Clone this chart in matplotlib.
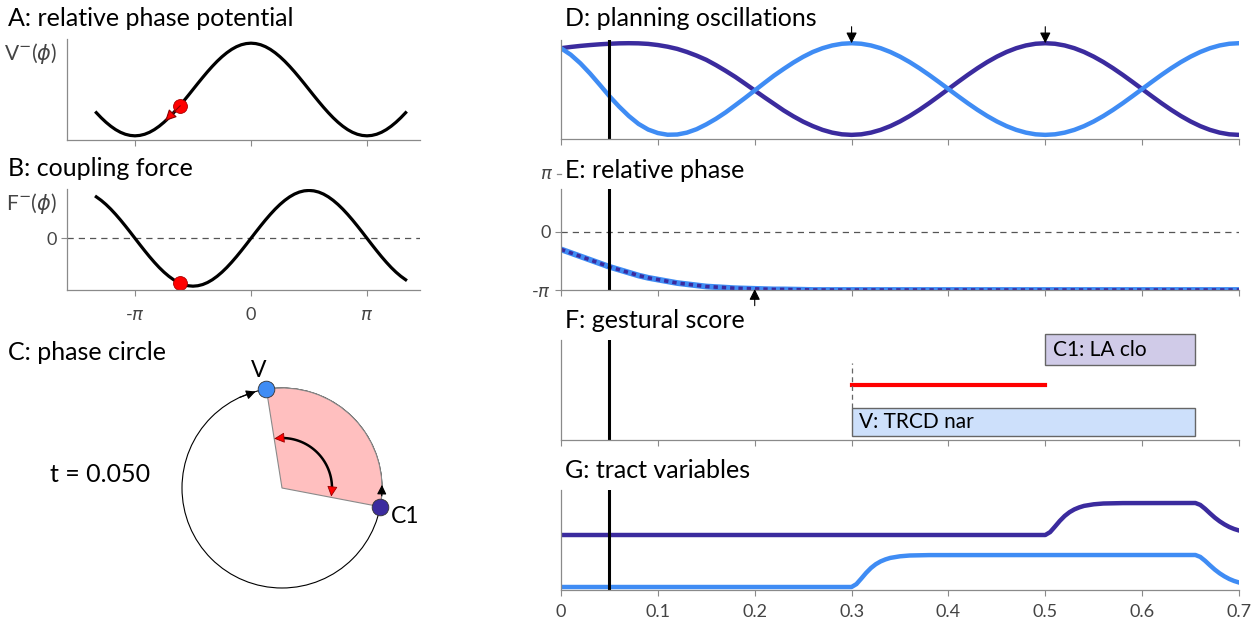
import numpy as np
import matplotlib.pyplot as plt
from matplotlib.patches import Wedge, Circle, Rectangle
import matplotlib.transforms as mtrans

plt.rcParams['font.family'] = ['Lato', 'DejaVu Sans']

# ---- data ----
# A/B: potential and coupling force vs relative phase, phase in steps of pi/24 (-4pi/3 .. 4pi/3)
phi_grid = np.arange(-32, 33) * np.pi / 24
pot_left = [-0.5, -0.609, -0.707, -0.793, -0.866, -0.924, -0.966, -0.991, -1.0,
            -0.991, -0.966, -0.924, -0.866, -0.793, -0.707, -0.609, -0.5, -0.383, -0.259, -0.131, 0.0,
            0.131, 0.259, 0.383, 0.5, 0.609, 0.707, 0.793, 0.866, 0.924, 0.966, 0.991, 1.0]
potential = pot_left + pot_left[-2::-1]          # curve is symmetric about 0
force_left = [0.866, 0.793, 0.707, 0.609, 0.5, 0.383, 0.259, 0.131, 0.0,
              -0.131, -0.259, -0.383, -0.5, -0.609, -0.707, -0.793, -0.866, -0.924, -0.966, -0.991, -1.0,
              -0.991, -0.966, -0.924, -0.866, -0.793, -0.707, -0.609, -0.5, -0.383, -0.259, -0.131]
force = force_left + [0.0] + [-v for v in force_left[::-1]]   # odd about 0
phi_now = -0.61 * np.pi
v_now, f_now = -0.35, -0.94
tip_phi, tip_v = -0.74 * np.pi, -0.68

# C: current phases on the circle
t_now = 0.05
phase_V_now = 0.55 * np.pi
phase_C1_now = -0.06 * np.pi

# D/E: planning oscillators, sampled every 0.01 s
t_osc = np.linspace(0, 0.7, 71)
osc_V = [0.891, 0.750, 0.562, 0.339, 0.094, -0.156, -0.383, -0.588, -0.760, -0.884, -0.960, -0.997, -0.992,
         -0.951, -0.876, -0.771, -0.649, -0.509, -0.353, -0.195, -0.031, 0.133, 0.294, 0.440, 0.579, 0.703,
         0.809, 0.891, 0.951, 0.988, 1.0,
         0.988, 0.951, 0.891, 0.809, 0.707, 0.588, 0.454, 0.309, 0.156, 0.0,
         -0.156, -0.309, -0.454, -0.588, -0.707, -0.809, -0.891, -0.951, -0.988, -1.0,
         -0.988, -0.951, -0.891, -0.809, -0.707, -0.588, -0.454, -0.309, -0.156, 0.0,
         0.156, 0.309, 0.454, 0.588, 0.707, 0.809, 0.891, 0.951, 0.988, 1.0]
osc_C1 = [0.891, 0.918, 0.941, 0.960, 0.976, 0.988, 0.997, 1.0, 0.997, 0.985, 0.960, 0.924, 0.876,
          0.809, 0.729, 0.637, 0.522, 0.397, 0.264, 0.118, -0.031, -0.180, -0.324, -0.468, -0.596, -0.712,
          -0.809, -0.891, -0.951, -0.988, -1.0,
          -0.988, -0.951, -0.891, -0.809, -0.707, -0.588, -0.454, -0.309, -0.156, 0.0,
          0.156, 0.309, 0.454, 0.588, 0.707, 0.809, 0.891, 0.951, 0.988, 1.0,
          0.988, 0.951, 0.891, 0.809, 0.707, 0.588, 0.454, 0.309, 0.156, 0.0,
          -0.156, -0.309, -0.454, -0.588, -0.707, -0.809, -0.891, -0.951, -0.988, -1.0]
# relative phase in units of pi
rel_phase = [-0.30, -0.36, -0.42, -0.48, -0.54, -0.60, -0.65, -0.70, -0.75, -0.79, -0.82, -0.85, -0.88,
             -0.90, -0.92, -0.94, -0.95, -0.96, -0.97, -0.975, -0.98, -0.985, -0.99, -0.99, -0.993,
             -0.996] + [-1.0] * 45
peak_times = [0.3, 0.5]
converge_t = 0.2

# F: gestural score
gest_labels = ['V: TRCD nar', 'C1: LA clo']
gest_on = [0.3, 0.5]
gest_off = [0.655, 0.655]
plan_on, plan_off = 0.3, 0.5

# G: tract variables
tv_t_V = [0, 0.30, 0.305, 0.31, 0.315, 0.32, 0.325, 0.33, 0.335, 0.34, 0.35, 0.36, 0.38,
          0.655, 0.66, 0.665, 0.67, 0.675, 0.68, 0.685, 0.69, 0.695, 0.70]
tv_V = [0.03, 0.03, 0.059, 0.114, 0.171, 0.220, 0.258, 0.286, 0.306, 0.321, 0.337, 0.345, 0.349,
        0.35, 0.331, 0.292, 0.247, 0.204, 0.167, 0.136, 0.110, 0.090, 0.075]
tv_t_C1 = [0, 0.50, 0.505, 0.51, 0.515, 0.52, 0.525, 0.53, 0.535, 0.54, 0.55, 0.56, 0.58,
           0.655, 0.66, 0.665, 0.67, 0.675, 0.68, 0.685, 0.69, 0.695, 0.70]
tv_C1 = [0.55, 0.55, 0.579, 0.634, 0.691, 0.740, 0.778, 0.806, 0.826, 0.841, 0.857, 0.865, 0.869,
         0.87, 0.851, 0.812, 0.767, 0.724, 0.687, 0.656, 0.630, 0.610, 0.595]

c_V = '#3f8cf4'
c_C1 = '#3b2b9e'
spine_c = '#8a8a8a'
lab_c = '#444444'

W, H = 1257, 621
fig = plt.figure(figsize=(W / 100, H / 100), dpi=100)


def px_axes(l, t, w, h):
    return fig.add_axes([l / W, 1 - (t + h) / H, w / W, h / H])


def style(ax):
    for s in ['top', 'right']:
        ax.spines[s].set_visible(False)
    for s in ['left', 'bottom']:
        ax.spines[s].set_color(spine_c)
        ax.spines[s].set_linewidth(0.9)
    ax.tick_params(direction='out', length=4, color=spine_c, labelcolor=lab_c, labelsize=13)
    ax.set_yticks([])


def title(x, y, s):
    fig.text(x / W, 1 - y / H, s, fontsize=18, va='center', ha='left')


pi_ticks = [-np.pi, 0, np.pi]
pi_labels = [r'-$\pi$', '0', r'$\pi$']
head = dict(arrowstyle='-|>', color='black', lw=0.8, mutation_scale=16)

# A
axA = px_axes(67, 39, 353, 101)
style(axA)
axA.plot(phi_grid, potential, color='black', lw=2.3)
axA.plot(phi_now, v_now, 'o', ms=10, mfc='red', mec='#aa0000', mew=0.6, zorder=3)
axA.annotate('', xy=(tip_phi, tip_v), xytext=(phi_now, v_now), zorder=4,
             arrowprops=dict(arrowstyle='-|>', fc='red', ec='#880000', lw=0.8, mutation_scale=17,
                             shrinkA=0, shrinkB=0))
axA.set_xlim(-1.586 * np.pi, 1.457 * np.pi)
axA.set_ylim(-1.09, 1.09)
axA.set_xticks(pi_ticks)
axA.set_xticklabels([])
title(8, 18, 'A: relative phase potential')
fig.text(57 / W, 1 - 53 / H, r'V$^{-}$($\phi$)', fontsize=15, ha='right', va='center', color=lab_c)

# B
axB = px_axes(67, 189, 353, 101)
style(axB)
axB.axhline(0, color='#555555', lw=0.9, ls=(0, (5, 4)))
axB.plot(phi_grid, force, color='black', lw=2.3)
axB.plot(phi_now, f_now, 'o', ms=10, mfc='red', mec='#aa0000', mew=0.6)
axB.set_xlim(-1.586 * np.pi, 1.457 * np.pi)
axB.set_ylim(-1.08, 1.03)
axB.set_xticks(pi_ticks)
axB.set_xticklabels(pi_labels)
axB.tick_params(axis='x', pad=8)
axB.set_yticks([0])
axB.set_yticklabels(['0'])
title(8, 168, 'B: coupling force')
fig.text(57 / W, 1 - 203 / H, r'F$^{-}$($\phi$)', fontsize=15, ha='right', va='center', color=lab_c)

# C: phase circle
axC = px_axes(0, 338, 420, 283)
axC.set_xlim(-2.82, 1.38)
axC.set_ylim(-1.33, 1.5)
axC.axis('off')
axC.add_patch(Circle((0, 0), 1, fill=False, ec='black', lw=0.8, zorder=1))
axC.add_patch(Wedge((0, 0), 1, np.degrees(phase_C1_now), np.degrees(phase_V_now),
                    fc='#ffbfbf', ec='#8a8a8a', lw=0.8, zorder=2))
arc = np.linspace(phase_C1_now + 0.04 * np.pi, phase_V_now - 0.04 * np.pi, 60)
axC.plot(0.5 * np.cos(arc), 0.5 * np.sin(arc), color='black', lw=1.8, zorder=3)
for a_from, a_to in [(arc[-1] - 0.01, phase_V_now), (arc[0] + 0.01, phase_C1_now + 0.005 * np.pi)]:
    axC.annotate('', xy=(0.5 * np.cos(a_to), 0.5 * np.sin(a_to)),
                 xytext=(0.5 * np.cos(a_from), 0.5 * np.sin(a_from)),
                 arrowprops=dict(arrowstyle='-|>', fc='red', ec='#990000', lw=0.6, mutation_scale=16,
                                 shrinkA=0, shrinkB=0), zorder=4)
# direction markers on the circle
for a_tip, a_tail in [(phase_V_now + 0.035 * np.pi, phase_V_now + 0.09 * np.pi),
                      (phase_C1_now + 0.07 * np.pi, phase_C1_now + 0.035 * np.pi)]:
    axC.annotate('', xy=(np.cos(a_tip), np.sin(a_tip)), xytext=(np.cos(a_tail), np.sin(a_tail)),
                 arrowprops=dict(arrowstyle='-|>', color='black', lw=0.8, mutation_scale=14,
                                 shrinkA=0, shrinkB=0), zorder=4)
axC.plot(np.cos(phase_V_now), np.sin(phase_V_now), 'o', ms=12, mfc=c_V, mec='#333333', mew=0.6, zorder=5)
axC.plot(np.cos(phase_C1_now), np.sin(phase_C1_now), 'o', ms=12, mfc=c_C1, mec='#333333', mew=0.6, zorder=5)
axC.text(np.cos(phase_V_now) - 0.08, np.sin(phase_V_now) + 0.19, 'V', fontsize=16.5, ha='center', va='center')
axC.text(np.cos(phase_C1_now) + 0.11, np.sin(phase_C1_now) - 0.1, 'C1', fontsize=16.5, ha='left', va='center')
axC.text(-1.82, 0.13, 't = %.3f' % t_now, fontsize=18, ha='center', va='center')
title(8, 353, 'C: phase circle')

xt = np.arange(0, 0.71, 0.1)

# D
axD = px_axes(561, 40, 678, 99)
style(axD)
axD.plot(t_osc, osc_C1, color=c_C1, lw=3.2)
axD.plot(t_osc, osc_V, color=c_V, lw=3.2)
axD.axvline(t_now, color='black', lw=2.2)
for tp in peak_times:
    axD.annotate('', xy=(tp, 1.0), xytext=(tp, 1.36), annotation_clip=False,
                 arrowprops=dict(head, shrinkA=0, shrinkB=0))
axD.set_xlim(0, 0.7)
axD.set_ylim(-1.09, 1.07)
axD.set_xticks(xt)
axD.set_xticklabels([])
title(565, 18, 'D: planning oscillations')

# E
axE = px_axes(561, 189, 678, 101)
style(axE)
axE.axhline(0, color='#555555', lw=0.9, ls=(0, (5, 4)))
rel = np.array(rel_phase) * np.pi
axE.plot(t_osc, rel, color=c_V, lw=4.2)
axE.plot(t_osc, rel, color=c_C1, lw=2.6, ls=(0, (1.2, 1.1)))
axE.axvline(t_now, color='black', lw=2.2)
axE.annotate('', xy=(converge_t, -0.985 * np.pi), xytext=(converge_t, -1.27 * np.pi), annotation_clip=False,
             arrowprops=dict(head, shrinkA=0, shrinkB=0))
axE.set_xlim(0, 0.7)
axE.set_ylim(-np.pi, 0.741 * np.pi)
axE.set_xticks(xt)
axE.set_xticklabels([])
axE.set_yticks([-np.pi, 0])
axE.set_yticklabels([r'-$\pi$', '0'])
tr = mtrans.blended_transform_factory(axE.transAxes, axE.transData)
axE.plot([-0.0065, 0], [np.pi, np.pi], color=spine_c, lw=0.9, transform=tr, clip_on=False)
axE.text(-0.012, np.pi, r'$\pi$', transform=tr, ha='right', va='center', fontsize=13, color=lab_c)
title(565, 170, 'E: relative phase')

# F
axF = px_axes(561, 340, 678, 100)
style(axF)
axF.axvline(t_now, color='black', lw=2.2)
box_y = [(0.04, 0.28), (0.75, 0.31)]
box_fc = ['#cde0fb', '#d0cbe8']
for lab, on, off, (y0, h), fc in zip(gest_labels, gest_on, gest_off, box_y, box_fc):
    axF.add_patch(Rectangle((on, y0), off - on, h, fc=fc, ec='#666666', lw=1.0, clip_on=False))
    axF.text(on + 0.008, y0 + h / 2, lab, fontsize=15, ha='left', va='center')
axF.plot([plan_on, plan_off], [0.55, 0.55], color='red', lw=3)
axF.plot([plan_on, plan_on], [0.32, 0.77], color='#666666', lw=0.9, ls=(0, (4, 3)))
axF.set_xlim(0, 0.7)
axF.set_ylim(0, 1)
axF.set_xticks(xt)
axF.set_xticklabels([])
title(565, 320, 'F: gestural score')

# G
axG = px_axes(561, 490, 678, 100)
style(axG)
axG.plot(tv_t_C1, tv_C1, color=c_C1, lw=3.2)
axG.plot(tv_t_V, tv_V, color=c_V, lw=3.2)
axG.axvline(t_now, color='black', lw=2.2)
axG.set_xlim(0, 0.7)
axG.set_ylim(0, 1)
axG.set_xticks(xt)
axG.set_xticklabels(['0', '0.1', '0.2', '0.3', '0.4', '0.5', '0.6', '0.7'])
axG.tick_params(axis='x', pad=6)
title(565, 470, 'G: tract variables')

fig.savefig('out.png', dpi=100, facecolor='white')
